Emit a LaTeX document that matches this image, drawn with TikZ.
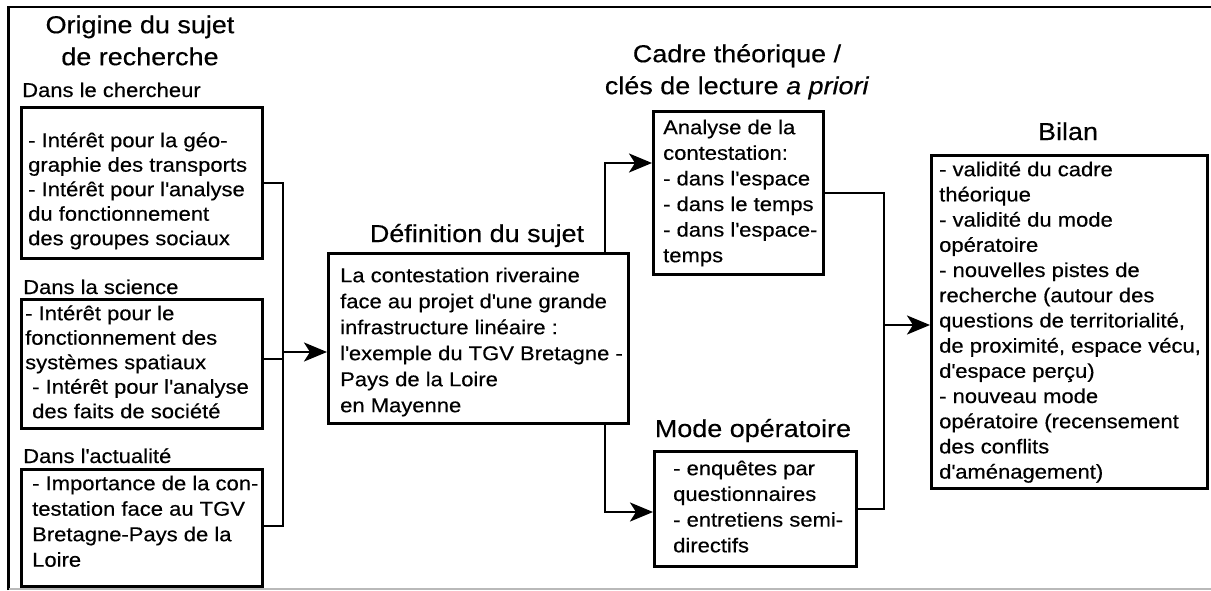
\documentclass[tikz,border=0pt]{standalone}
\usepackage{fontspec}
\setmainfont{Liberation Sans}[FakeStretch=1.1,FakeBold=0.4]
\usetikzlibrary{arrows.meta}
\newcommand{\fstrut}{\rule{0pt}{16pt}}
\newcommand{\tstrut}{\rule{0pt}{20pt}}
\newcommand{\sq}{\textquotesingle}
\tikzset{
  boxnode/.style={draw, line width=2.5pt, anchor=north west, inner sep=0pt},
  txt/.style={anchor=north west, inner sep=0pt, align=left, font=\fontsize{20}{#1}\selectfont},
  lbl/.style={anchor=base west, inner sep=0pt, font=\fontsize{20}{24}\selectfont},
  ttl/.style={anchor=north, inner sep=0pt, align=center, font=\fontsize{24.5}{32}\selectfont},
  ttl1/.style={anchor=base, inner sep=0pt, font=\fontsize{24.5}{32}\selectfont},
  conn/.style={line width=2.4pt},
  arr/.style={line width=2.4pt, -{Stealth[length=23pt,width=19pt,inset=6pt]}}
}
\begin{document}
\begin{tikzpicture}[x=1pt,y=-1pt]
\useasboundingbox (0,0) rectangle (1211,590);
% frame
\draw[line width=2.2pt] (8.5,590) -- (8.5,7) -- (1211,7);
\draw[gray!55, line width=1.5pt] (8.5,589) -- (1211,589);

% left column
\node[ttl] (tor) at (140,13) {\tstrut Origine du sujet\\de recherche};
\node[lbl] (l1) at (22,97) {Dans le chercheur};
\node[boxnode, minimum width=241pt, minimum height=151pt] (b1) at (20,106) {};
\node[txt=24.5] (t1) at (28,131) {\fstrut- Intérêt pour la géo-\\graphie des transports\\- Intérêt pour l\sq analyse\\du fonctionnement\\des groupes sociaux};

\node[lbl] (l2) at (23,294) {Dans la science};
\node[boxnode, minimum width=241pt, minimum height=129pt] (b2) at (20,298) {};
\node[txt=24.5] (t2) at (25,304) {\fstrut- Intérêt pour le\\fonctionnement des\\systèmes spatiaux\\\hspace*{7pt}- Intérêt pour l\sq analyse\\\hspace*{7pt}des faits de société};

\node[lbl] (l3) at (23,463) {Dans l\sq actualité};
\node[boxnode, minimum width=241pt, minimum height=117pt] (b3) at (20,468) {};
\node[txt=25.5] (t3) at (32,474) {\fstrut- Importance de la con-\\testation face au TGV\\Bretagne-Pays de la\\Loire};

% definition
\node[ttl1] (tdef) at (477,242) {Définition du sujet};
\node[boxnode, minimum width=300pt, minimum height=170pt] (def) at (327,252) {};
\node[txt=26] (tdf) at (340,266) {\fstrut La contestation riveraine\\face au projet d\sq une grande\\infrastructure linéaire :\\l\sq exemple du TGV Bretagne -\\Pays de la Loire\\en Mayenne};

% cadre
\node[ttl] (tcad) at (737,42) {\tstrut Cadre théorique /\\clés de lecture \textit{a priori}};
\node[boxnode, minimum width=170pt, minimum height=163pt] (cad) at (652,110) {};
\node[txt=25.6] (tcd) at (663,118) {\fstrut Analyse de la\\contestation:\\- dans l\sq espace\\- dans le temps\\- dans l\sq espace-\\temps};

% mode
\node[ttl1] (tmod) at (753,437) {Mode opératoire};
\node[boxnode, minimum width=202pt, minimum height=115pt] (mode) at (653,450) {};
\node[txt=25.7] (tmd) at (673,459) {\fstrut- enquêtes par\\questionnaires\\- entretiens semi-\\directifs};

% bilan
\node[ttl1] (tbil) at (1068,140) {Bilan};
\node[boxnode, minimum width=276pt, minimum height=333pt] (bil) at (930,154) {};
\node[txt=25.2] (tbl) at (939,160) {\fstrut- validité du cadre\\théorique\\- validité du mode\\opératoire\\- nouvelles pistes de\\recherche (autour des\\questions de territorialité,\\de proximité, espace vécu,\\d\sq espace perçu)\\- nouveau mode\\opératoire (recensement\\des conflits\\d\sq aménagement)};

% connectors
\coordinate (j1) at (283,352);
\draw[conn] (b1.east) -- (b1.east -| j1) -- ([yshift=1.5pt]b3.east -| j1) -- ([yshift=1.5pt]b3.east);
\draw[conn] ([yshift=4.5pt]b2.east) -- ([yshift=4.5pt]b2.east -| j1);
\draw[arr] (j1) -- (j1 -| def.west);

\coordinate (k1) at (605,163);
\coordinate (k2) at (605,512);
\draw[arr] (def.north -| k1) -- (k1) -- (k1 -| cad.west);
\draw[arr] (def.south -| k2) -- (k2) -- (k2 -| mode.west);

\coordinate (j2) at (884,325);
\draw[conn] (cad.east) -- (cad.east -| j2) -- (mode.east -| j2) -- (mode.east);
\draw[arr] (j2) -- (j2 -| bil.west);
\end{tikzpicture}
\end{document}
